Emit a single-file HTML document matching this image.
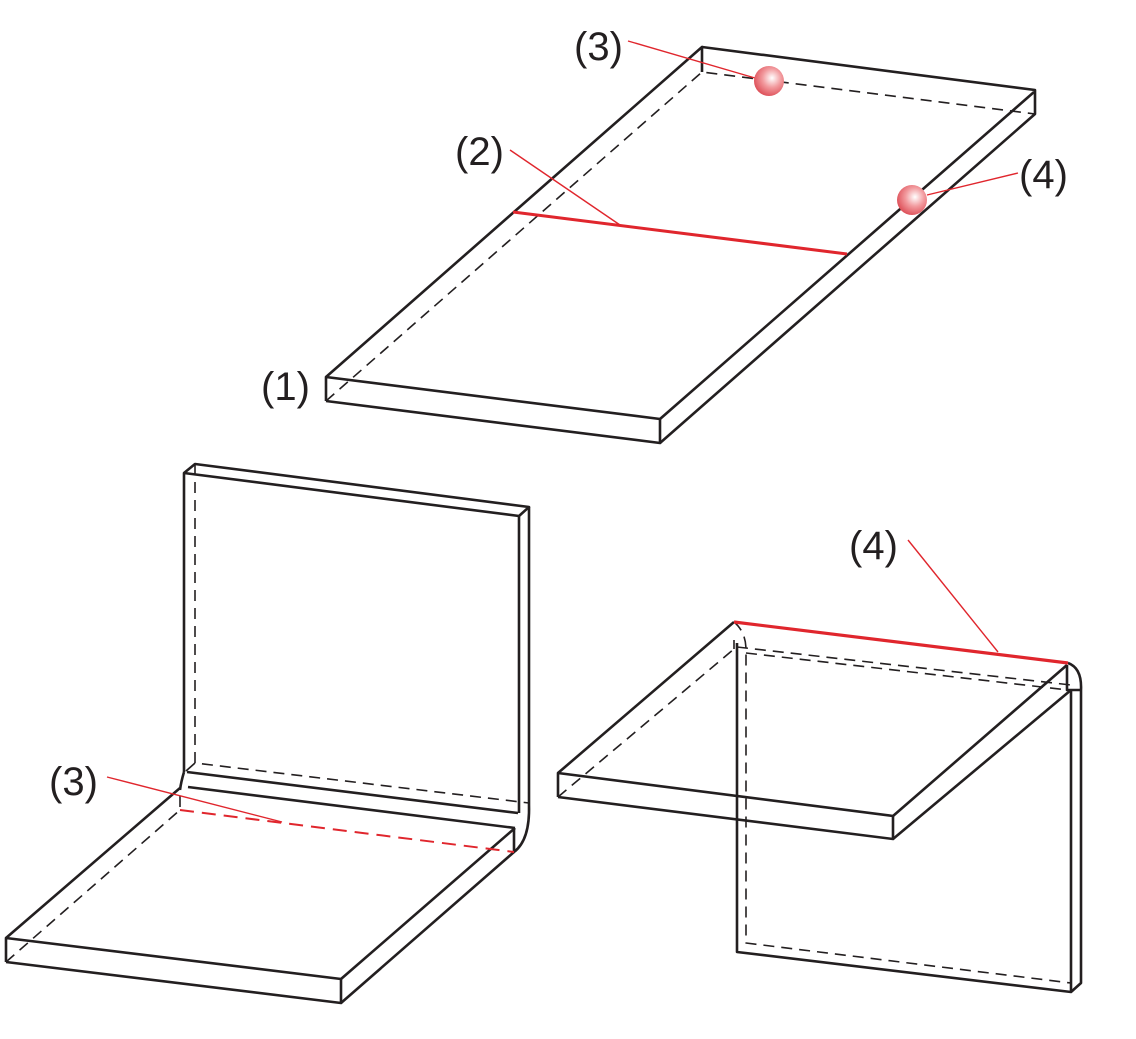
<!DOCTYPE html>
<html><head><style>
html,body{margin:0;padding:0;background:#fff;}
svg{display:block;}
text{font-family:"Liberation Sans",sans-serif;font-size:40px;fill:#231f20;}
</style></head><body>
<svg width="1136" height="1039" viewBox="0 0 1136 1039" xmlns="http://www.w3.org/2000/svg">
<defs>
<radialGradient id="sp" cx="0.6" cy="0.4" r="0.7">
<stop offset="0" stop-color="#fff"/>
<stop offset="0.45" stop-color="#f29a9e"/>
<stop offset="1" stop-color="#d9404a"/>
</radialGradient>
</defs>
<g fill="none" stroke="#231f20" stroke-width="2.6" stroke-linejoin="round">
<path d="M326,401 V377 L660,419 V443 L326,401"/>
<path d="M326,377 L702,47 V72"/>
<path d="M702,47 L1035,90 V114 L660,443"/>
<path d="M660,419 L1034,92"/>
<path d="M326,401 L702,72 L1035,114" stroke-dasharray="11,7" stroke-width="1.6"/>

<path d="M184,772 V473 L195,464 L529,507 L519,516 L184,473"/>
<path d="M519,516 V813 M529,507 V805"/>
<path d="M195,464 V763 L529,803" stroke-dasharray="11,7" stroke-width="1.6"/>
<path d="M187,772 L518,813 M188,787 L515,828"/>
<path d="M184,772 Q181,782 180,790"/>
<path d="M195,763 L186,771" stroke-width="1.6"/>
<path d="M529,805 Q530,840 514,852 V828"/>
<path d="M6,962 V938 L341,979 V1003 L6,962"/>
<path d="M6,938 L180,788"/>
<path d="M341,979 L515,828"/>
<path d="M341,1003 L514,852"/>
<path d="M6,962 L180,810 V788" stroke-dasharray="11,7" stroke-width="1.6"/>

<path d="M558,797 V773 L893,816 V839 L558,797"/>
<path d="M558,773 L734,622"/>
<path d="M893,816 L1067,665"/>
<path d="M893,839 L1071,690"/>
<path d="M1068,663 Q1082,668 1081,690 V983 L1071,992 L737,952 V643"/>
<path d="M1071,690 V992 M1067,665 V690 L1081,690"/>
<path d="M558,797 L734,649 M734,622 Q746,632 746,650 V943 L1071,983 M737,647 L1071,685 M746,653 L1068,690 M734,649 V640" stroke-dasharray="11,7" stroke-width="1.6"/>
</g>

<g fill="none" stroke="#e0262d">
<path d="M513,212 L847,254" stroke-width="3"/>
<path d="M510,150 L620,225" stroke-width="1.4"/>
<path d="M628,41 L755,78" stroke-width="1.4"/>
<path d="M927,195 L1018,173" stroke-width="1.4"/>
<path d="M180,810 L514,852" stroke-width="2" stroke-dasharray="14,8"/>
<path d="M107,777 L282,822" stroke-width="1.4"/>
<path d="M734,622 L1068,663" stroke-width="3.2"/>
<path d="M908,540 L998,652" stroke-width="1.4"/>
</g>
<circle cx="769" cy="81" r="15" fill="url(#sp)"/>
<circle cx="912" cy="200" r="15" fill="url(#sp)"/>

<text x="574" y="60">(3)</text>
<text x="455" y="165">(2)</text>
<text x="1019" y="188">(4)</text>
<text x="261" y="400">(1)</text>
<text x="49" y="795">(3)</text>
<text x="849" y="559">(4)</text>
</svg>
</body></html>
